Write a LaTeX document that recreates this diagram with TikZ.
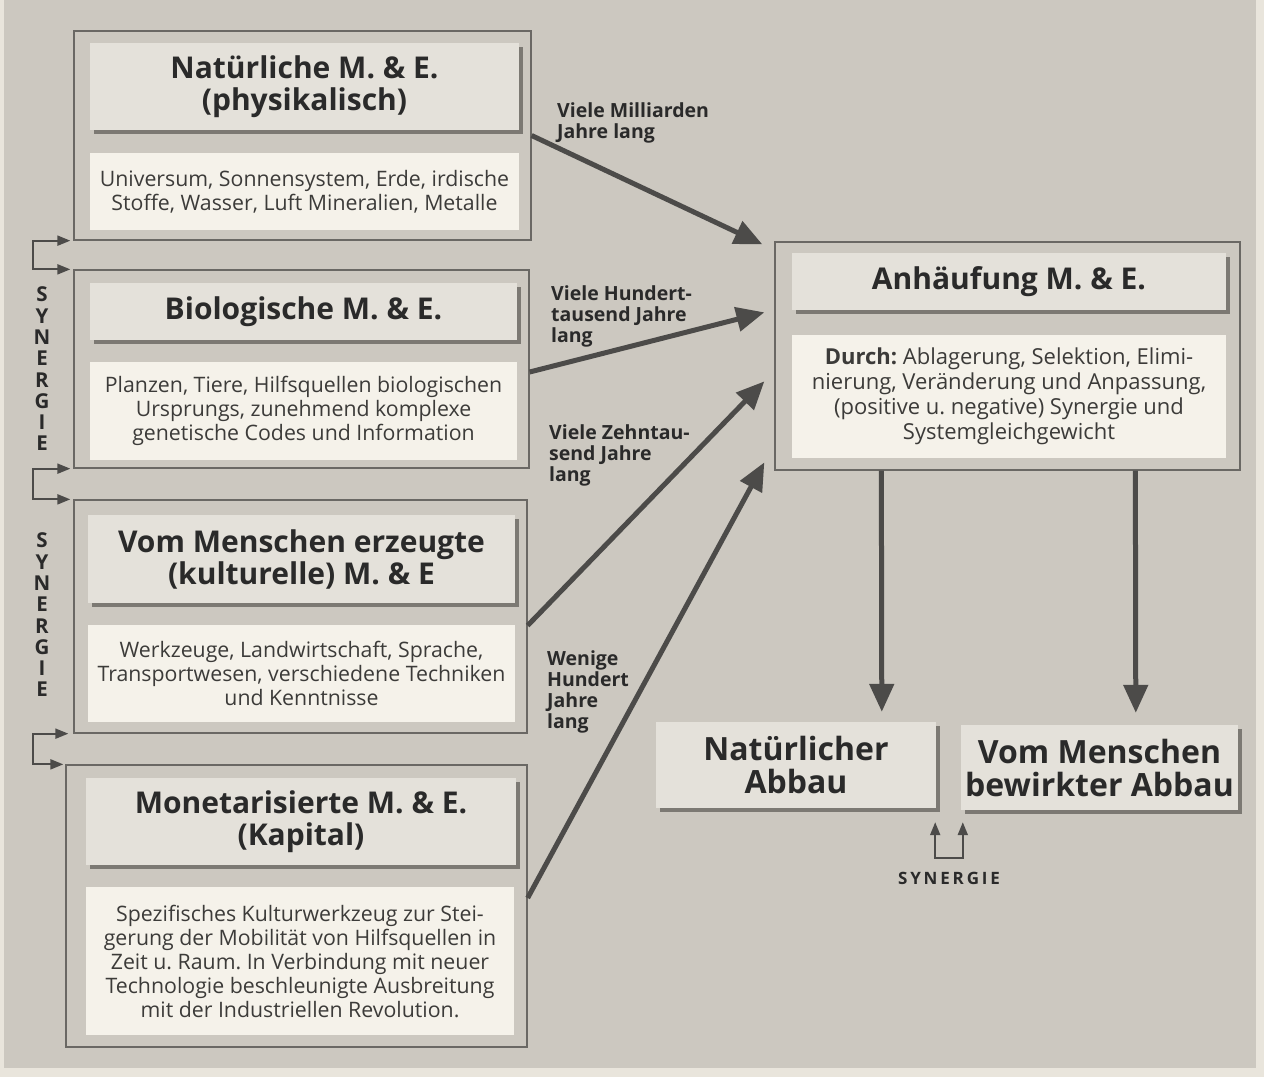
\documentclass[tikz,border=0pt]{standalone}
\usepackage{fontspec}
\setmainfont{Open Sans}
\usetikzlibrary{arrows.meta,calc,shadows}
\frenchspacing
\definecolor{pagec}{HTML}{E9E5DC}
\definecolor{bg}{HTML}{CCC8C0}
\definecolor{edge}{HTML}{6A6864}
\definecolor{titlefill}{HTML}{E4E1DA}
\definecolor{textfill}{HTML}{F5F2EA}
\definecolor{shadowc}{HTML}{7C7973}
\definecolor{ink}{HTML}{2A2A2A}
\definecolor{bodyink}{HTML}{3C3B39}
\definecolor{arrowc}{HTML}{4C4B49}
\newcommand{\titlefont}{\fontsize{30}{32}\selectfont\bfseries}
\newcommand{\bodyfont}{\fontsize{21.3}{24}\selectfont}
\newcommand{\labfont}{\fontsize{19.5}{21.3}\selectfont\bfseries}
\tikzset{
  panel/.style={draw=edge, line width=1.3pt, fill=bg, inner sep=0pt},
  titlebox/.style={fill=titlefill, inner sep=0pt, align=center, font=\titlefont, text=ink,
     drop shadow={shadow xshift=4pt, shadow yshift=-4pt, fill=shadowc, opacity=1}},
  textbox/.style={fill=textfill, inner sep=0pt, align=center, font=\bodyfont, text=bodyink},
  lab/.style={anchor=north west, inner sep=0pt, align=left, font=\labfont, text=ink},
  big/.style={draw=arrowc, line width=5pt, -{Triangle[length=28pt,width=24pt]}},
  syn/.style={draw=arrowc, line width=2pt, {Triangle[length=13pt,width=10pt]}-{Triangle[length=13pt,width=10pt]}},
  vsyn/.style={inner sep=0pt, align=center, font=\fontsize{20.5}{21.3}\selectfont\bfseries, text=ink}
}
\begin{document}
\begin{tikzpicture}[x=1pt,y=-1pt]
\fill[pagec] (0,0) rectangle (1264,1077);
\fill[bg] (4,0) rectangle (1256,1068);
\useasboundingbox (0,0) rectangle (1264,1077);

% left panels
\node[panel, minimum width=457, minimum height=209] (p1) at (302.5,135.5) {};
\node[titlebox, minimum width=429, minimum height=87] (t1) at (304.5,86.5) {Natürliche M. \& E.\\(physikalisch)};
\node[textbox, minimum width=429, minimum height=77] (x1) at (304.5,191.5) {Universum, Sonnensystem, Erde, irdische\\Stoffe, Wasser, Luft Mineralien, Metalle};

\node[panel, minimum width=455, minimum height=198] (p2) at (301.5,369) {};
\node[titlebox, minimum width=427, minimum height=57] (t2) at (303.5,311.5) {Biologische M. \& E.};
\node[textbox, minimum width=427, minimum height=98] (x2) at (303.5,411) {Planzen, Tiere, Hilfsquellen biologischen\\Ursprungs, zunehmend komplexe\\genetische Codes und Information};

\node[panel, minimum width=453, minimum height=233] (p3) at (300.5,616.5) {};
\node[titlebox, minimum width=427, minimum height=88] (t3) at (301.5,559) {Vom Menschen erzeugte\\(kulturelle) M. \& E};
\node[textbox, minimum width=427, minimum height=97] (x3) at (301.5,673.5) {Werkzeuge, Landwirtschaft, Sprache,\\Transportwesen, verschiedene Techniken\\und Kenntnisse};

\node[panel, minimum width=461, minimum height=282] (p4) at (296.5,906) {};
\node[titlebox, minimum width=430, minimum height=87] (t4) at (301,821.5) {Monetarisierte M. \& E.\\(Kapital)};
\node[textbox, minimum width=428, minimum height=148] (x4) at (300,961) {Spezifisches Kulturwerkzeug zur Stei-\\gerung der Mobilität von Hilfsquellen in\\Zeit u. Raum. In Verbindung mit neuer\\Technologie beschleunigte Ausbreitung\\mit der Industriellen Revolution.};

% right panel
\node[panel, minimum width=465, minimum height=228] (a) at (1007.5,356) {};
\node[titlebox, minimum width=434, minimum height=57] (ta) at (1009,281.5) {Anhäufung M. \& E.};
\node[textbox, minimum width=434, minimum height=123, font=\fontsize{22}{25}\selectfont] (xa) at (1009,396.5) {\textbf{Durch:} Ablagerung, Selektion, Elimi-\\nierung, Veränderung und Anpassung,\\(positive u. negative) Synergie und\\Systemgleichgewicht};

\node[titlebox, minimum width=280, minimum height=86, font=\fontsize{32}{33}\selectfont\bfseries] (b1) at (796,765) {Natürlicher\\Abbau};
\node[titlebox, minimum width=277, minimum height=85, font=\fontsize{32}{33}\selectfont\bfseries] (b2) at (1099.5,767.5) {Vom Menschen\\bewirkter Abbau};

% arrows to accumulation
\draw[big] (p1.east) -- ($(a.north west)+(-12,3)$);
\draw[big] ($(p2.east)+(0,3)$) -- ($(a.north west)+(-10,71)$);
\draw[big] ($(p3.east)+(0,9)$) -- ($(a.north west)+(-10,140)$);
\draw[big] ($(p4.east)+(0,-8)$) -- ($(a.north west)+(-10,221)$);

% arrow labels
\node[lab] (l1) at (557,102) {Viele Milliarden\\Jahre lang};
\node[lab] (l2) at (551,285) {Viele Hundert-\\tausend Jahre\\lang};
\node[lab] (l3) at (549,424) {Viele Zehntau-\\send Jahre\\lang};
\node[lab] (l4) at (547,650) {Wenige\\Hundert\\Jahre\\lang};

% down arrows
\draw[big] ($(a.south west)+(107,0)$) -- ($(b1.north west)+(226,-10)$);
\draw[big] ($(a.south west)+(361,0)$) -- ($(b2.north west)+(175,-12)$);

% synergy brackets left
\draw[syn] ([xshift=-3pt]p1.south west) -- ++(-37,0) |- ([xshift=-3pt]p2.north west);
\draw[syn] ([xshift=-3pt]p2.south west) -- ++(-37,0) |- ([xshift=-3pt]p3.north west);
\draw[syn] ([xshift=-5pt]p3.south west) -- ++(-35,0) |- ([xshift=-2pt]p4.north west);
\node[vsyn] (s1) at (42,369) {S\\Y\\N\\E\\R\\G\\I\\E};
\node[vsyn] (s2) at (42,615) {S\\Y\\N\\E\\R\\G\\I\\E};

% synergy bottom
\draw[syn] ($(b1.south east)+(-1,14)$) -- ++(0,36) -| ($(b2.south west)+(2,12)$);
\node[inner sep=0pt, font=\fontsize{17}{18}\selectfont\bfseries, text=ink] (s3) at (949,878) {S\,Y\,N\,E\,R\,G\,I\,E};
\end{tikzpicture}
\end{document}
